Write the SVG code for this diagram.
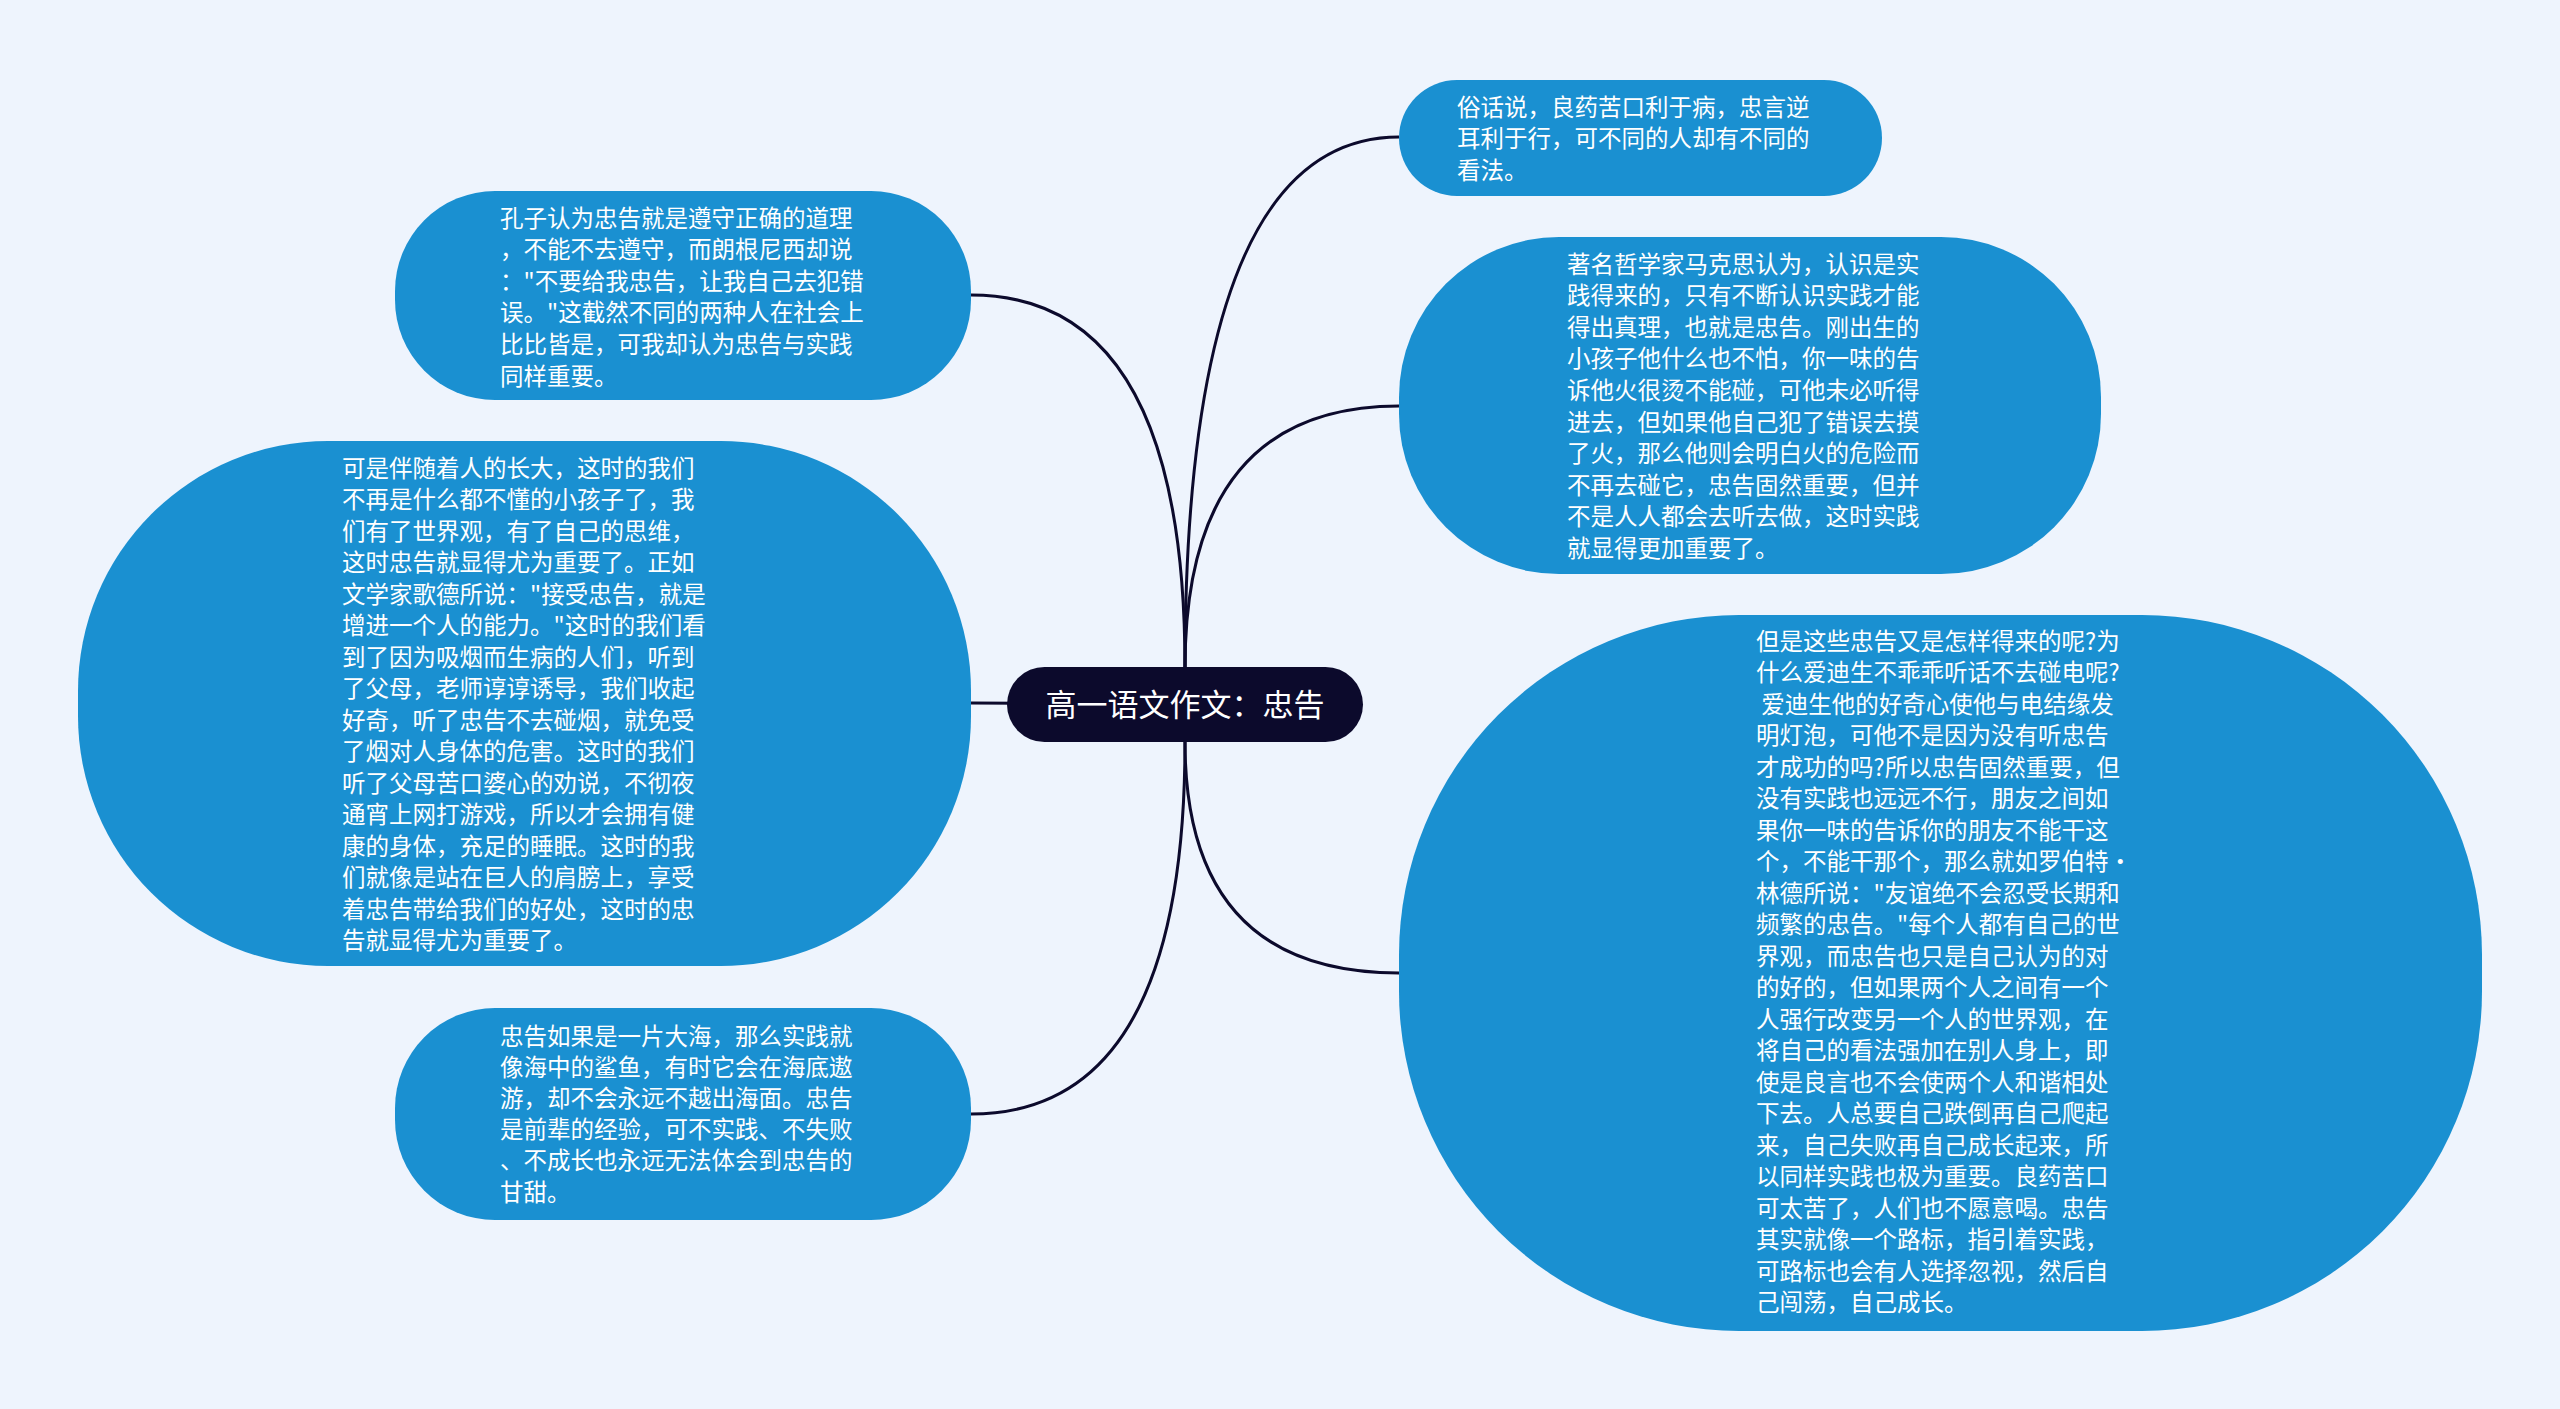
<svg xmlns="http://www.w3.org/2000/svg" width="2560" height="1409" viewBox="0 0 2560 1409">
<style>
.bg{fill:#eef4fd}
.node{fill:#1a90d1}
.root{fill:#0c0a2c}
.link{fill:none;stroke:#0c0a2c;stroke-width:3}
.t{font-family:"Noto Sans CJK SC","Noto Sans",sans-serif;font-size:23.5px;fill:#ffffff}
.rt{font-family:"Noto Sans CJK SC","Noto Sans",sans-serif;font-size:31px;fill:#ffffff;text-anchor:middle}
</style>
<rect class="bg" x="0" y="0" width="2560" height="1409"/>
<g id="connectors">
<path class="link" d="M1185 668 Q1185 137 1399 137"/>
<path class="link" d="M1185 668 Q1185 406 1399 406"/>
<path class="link" d="M1185 742 Q1185 973 1399 973"/>
<path class="link" d="M1185 668 Q1185 295 971 295"/>
<path class="link" d="M1185 704 L971 703"/>
<path class="link" d="M1185 742 Q1185 1114 971 1114"/>
</g>
<g id="root">
<rect class="root" x="1007" y="667" width="356" height="75" rx="37.5" ry="37.5"/>
<text class="rt" x="1185" y="716">高一语文作文：忠告</text>
</g>
<g id="node-a">
<rect class="node" x="1399" y="80" width="483" height="116" rx="58" ry="58"/>
<text class="t" x="1457" y="115.5"><tspan x="1457">俗话说，良药苦口利于病，忠言逆</tspan><tspan x="1457" dy="31.5">耳利于行，可不同的人却有不同的</tspan><tspan x="1457" dy="31.5">看法。</tspan></text>
</g>
<g id="node-b">
<rect class="node" x="1399" y="237" width="702" height="337" rx="160" ry="160"/>
<text class="t" x="1567" y="272.5"><tspan x="1567">著名哲学家马克思认为，认识是实</tspan><tspan x="1567" dy="31.6">践得来的，只有不断认识实践才能</tspan><tspan x="1567" dy="31.6">得出真理，也就是忠告。刚出生的</tspan><tspan x="1567" dy="31.6">小孩子他什么也不怕，你一味的告</tspan><tspan x="1567" dy="31.6">诉他火很烫不能碰，可他未必听得</tspan><tspan x="1567" dy="31.6">进去，但如果他自己犯了错误去摸</tspan><tspan x="1567" dy="31.6">了火，那么他则会明白火的危险而</tspan><tspan x="1567" dy="31.6">不再去碰它，忠告固然重要，但并</tspan><tspan x="1567" dy="31.6">不是人人都会去听去做，这时实践</tspan><tspan x="1567" dy="31.6">就显得更加重要了。</tspan></text>
</g>
<g id="node-c">
<rect class="node" x="1399" y="615" width="1083" height="716" rx="340" ry="340"/>
<text class="t" x="1756" y="649.5"><tspan x="1756">但是这些忠告又是怎样得来的呢?为</tspan><tspan x="1756" dy="31.5">什么爱迪生不乖乖听话不去碰电呢?</tspan><tspan x="1756" dy="31.5"> 爱迪生他的好奇心使他与电结缘发</tspan><tspan x="1756" dy="31.5">明灯泡，可他不是因为没有听忠告</tspan><tspan x="1756" dy="31.5">才成功的吗?所以忠告固然重要，但</tspan><tspan x="1756" dy="31.5">没有实践也远远不行，朋友之间如</tspan><tspan x="1756" dy="31.5">果你一味的告诉你的朋友不能干这</tspan><tspan x="1756" dy="31.5">个，不能干那个，那么就如罗伯特·</tspan><tspan x="1756" dy="31.5">林德所说："友谊绝不会忍受长期和</tspan><tspan x="1756" dy="31.5">频繁的忠告。"每个人都有自己的世</tspan><tspan x="1756" dy="31.5">界观，而忠告也只是自己认为的对</tspan><tspan x="1756" dy="31.5">的好的，但如果两个人之间有一个</tspan><tspan x="1756" dy="31.5">人强行改变另一个人的世界观，在</tspan><tspan x="1756" dy="31.5">将自己的看法强加在别人身上，即</tspan><tspan x="1756" dy="31.5">使是良言也不会使两个人和谐相处</tspan><tspan x="1756" dy="31.5">下去。人总要自己跌倒再自己爬起</tspan><tspan x="1756" dy="31.5">来，自己失败再自己成长起来，所</tspan><tspan x="1756" dy="31.5">以同样实践也极为重要。良药苦口</tspan><tspan x="1756" dy="31.5">可太苦了，人们也不愿意喝。忠告</tspan><tspan x="1756" dy="31.5">其实就像一个路标，指引着实践，</tspan><tspan x="1756" dy="31.5">可路标也会有人选择忽视，然后自</tspan><tspan x="1756" dy="31.5">己闯荡，自己成长。</tspan></text>
</g>
<g id="node-d">
<rect class="node" x="395" y="191" width="576" height="209" rx="100" ry="100"/>
<text class="t" x="500" y="226.5"><tspan x="500">孔子认为忠告就是遵守正确的道理</tspan><tspan x="500" dy="31.6">，不能不去遵守，而朗根尼西却说</tspan><tspan x="500" dy="31.6">："不要给我忠告，让我自己去犯错</tspan><tspan x="500" dy="31.6">误。"这截然不同的两种人在社会上</tspan><tspan x="500" dy="31.6">比比皆是，可我却认为忠告与实践</tspan><tspan x="500" dy="31.6">同样重要。</tspan></text>
</g>
<g id="node-e">
<rect class="node" x="78" y="441" width="893" height="525" rx="250" ry="250"/>
<text class="t" x="342" y="476.5"><tspan x="342">可是伴随着人的长大，这时的我们</tspan><tspan x="342" dy="31.5">不再是什么都不懂的小孩子了，我</tspan><tspan x="342" dy="31.5">们有了世界观，有了自己的思维，</tspan><tspan x="342" dy="31.5">这时忠告就显得尤为重要了。正如</tspan><tspan x="342" dy="31.5">文学家歌德所说："接受忠告，就是</tspan><tspan x="342" dy="31.5">增进一个人的能力。"这时的我们看</tspan><tspan x="342" dy="31.5">到了因为吸烟而生病的人们，听到</tspan><tspan x="342" dy="31.5">了父母，老师谆谆诱导，我们收起</tspan><tspan x="342" dy="31.5">好奇，听了忠告不去碰烟，就免受</tspan><tspan x="342" dy="31.5">了烟对人身体的危害。这时的我们</tspan><tspan x="342" dy="31.5">听了父母苦口婆心的劝说，不彻夜</tspan><tspan x="342" dy="31.5">通宵上网打游戏，所以才会拥有健</tspan><tspan x="342" dy="31.5">康的身体，充足的睡眠。这时的我</tspan><tspan x="342" dy="31.5">们就像是站在巨人的肩膀上，享受</tspan><tspan x="342" dy="31.5">着忠告带给我们的好处，这时的忠</tspan><tspan x="342" dy="31.5">告就显得尤为重要了。</tspan></text>
</g>
<g id="node-f">
<rect class="node" x="395" y="1008" width="576" height="212" rx="100" ry="100"/>
<text class="t" x="500" y="1044.5"><tspan x="500">忠告如果是一片大海，那么实践就</tspan><tspan x="500" dy="31.2">像海中的鲨鱼，有时它会在海底遨</tspan><tspan x="500" dy="31.2">游，却不会永远不越出海面。忠告</tspan><tspan x="500" dy="31.2">是前辈的经验，可不实践、不失败</tspan><tspan x="500" dy="31.2">、不成长也永远无法体会到忠告的</tspan><tspan x="500" dy="31.2">甘甜。</tspan></text>
</g>
</svg>
